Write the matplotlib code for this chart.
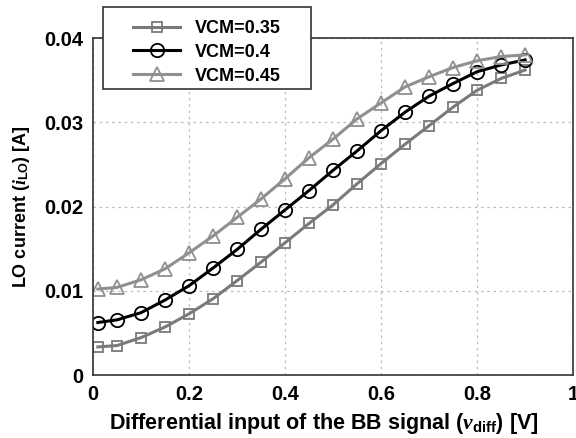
import matplotlib
matplotlib.use("Agg")
import matplotlib.pyplot as plt
from matplotlib.patches import Rectangle

x = [0.01, 0.05, 0.1, 0.15, 0.2, 0.25, 0.3, 0.35, 0.4, 0.45, 0.5, 0.55, 0.6, 0.65, 0.7, 0.75, 0.8, 0.85, 0.9]
vcm035 = [0.00333, 0.0035, 0.00444, 0.0057, 0.00726, 0.00905, 0.0112, 0.0134, 0.0157, 0.018, 0.0202,
          0.0227, 0.0251, 0.0274, 0.0296, 0.0318, 0.0338, 0.0352, 0.0362]
vcm040 = [0.00623, 0.00655, 0.0074, 0.0089, 0.0106, 0.0127, 0.0149, 0.0173, 0.0196, 0.0219, 0.0243,
          0.0266, 0.029, 0.0312, 0.0331, 0.0346, 0.036, 0.0368, 0.0374]
vcm045 = [0.0102, 0.0104, 0.0113, 0.0126, 0.0145, 0.0165, 0.0187, 0.0209, 0.0233, 0.0258, 0.028,
          0.0304, 0.0323, 0.0342, 0.0354, 0.0365, 0.0373, 0.0378, 0.038]
labels = ["VCM=0.35", "VCM=0.4", "VCM=0.45"]
xticks = [0, 0.2, 0.4, 0.6, 0.8, 1]
xticklabels = ["0", "0.2", "0.4", "0.6", "0.8", "1"]
yticks = [0, 0.01, 0.02, 0.03, 0.04]
yticklabels = ["0", "0.01", "0.02", "0.03", "0.04"]

plt.rcParams['font.family'] = ['Liberation Sans', 'DejaVu Sans']
plt.rcParams['mathtext.fontset'] = 'custom'
plt.rcParams['mathtext.rm'] = 'Liberation Sans:bold'
plt.rcParams['mathtext.it'] = 'Liberation Serif:italic:bold'
plt.rcParams['mathtext.bf'] = 'Liberation Sans:bold'

fig = plt.figure(figsize=(5.76, 4.38), dpi=100)
ax = fig.add_axes([0.1615, 0.1438, 0.8335, 0.7694])

ax.plot(x, vcm035, color='#7a7a7a', lw=2.2, marker='s', ms=7.5, mfc='none', mec='#7a7a7a', mew=1.3, label=labels[0])
ax.plot(x, vcm040, color='black', lw=2.2, marker='o', ms=9.6, mfc='none', mec='black', mew=1.3, label=labels[1])
ax.plot(x, vcm045, color='#909090', lw=2.2, marker='^', ms=10.5, mfc='none', mec='#909090', mew=1.3, label=labels[2])

ax.set_xlim(0, 1)
ax.set_ylim(0, 0.04)
ax.set_xticks(xticks)
ax.set_xticklabels(xticklabels)
ax.set_yticks(yticks)
ax.set_yticklabels(yticklabels)
ax.tick_params(length=0, labelsize=14.5, pad=7)
for lab in ax.get_xticklabels() + ax.get_yticklabels():
    lab.set_fontweight('bold')
ax.grid(True, color='#bbbbbb', ls=(0, (2, 3)), lw=0.9)
for s in ax.spines.values():
    s.set_color('#333333')
    s.set_linewidth(1.2)

ax.set_xlabel(r'Differential input of the BB signal ($\mathit{\nu}_{\mathrm{diff}}$) [V]',
              fontsize=15.5, fontweight='bold', va='center')
ax.xaxis.set_label_coords(0.48, -0.143)
ax.set_ylabel(r'LO current ($\mathit{i}_{\mathrm{LO}}$) [A]', fontsize=13, fontweight='bold', labelpad=9)

# legend frame drawn as a rectangle (pixel box 103..311 x 7..89)
fig.add_artist(Rectangle((103 / 576, 1 - 89 / 438), 208 / 576, 82 / 438, transform=fig.transFigure,
                         fill=True, facecolor='white', edgecolor='#333333', lw=1.2, zorder=5))
leg = fig.legend(loc='upper left', bbox_to_anchor=(0.219, 0.971), fontsize=13,
                 frameon=False, handlelength=2.6,
                 borderpad=0.4, labelspacing=0.38, handletextpad=0.8, borderaxespad=0)
leg.set_zorder(6)
for t in leg.get_texts():
    t.set_fontweight('bold')

fig.savefig('out.png', dpi=100)
